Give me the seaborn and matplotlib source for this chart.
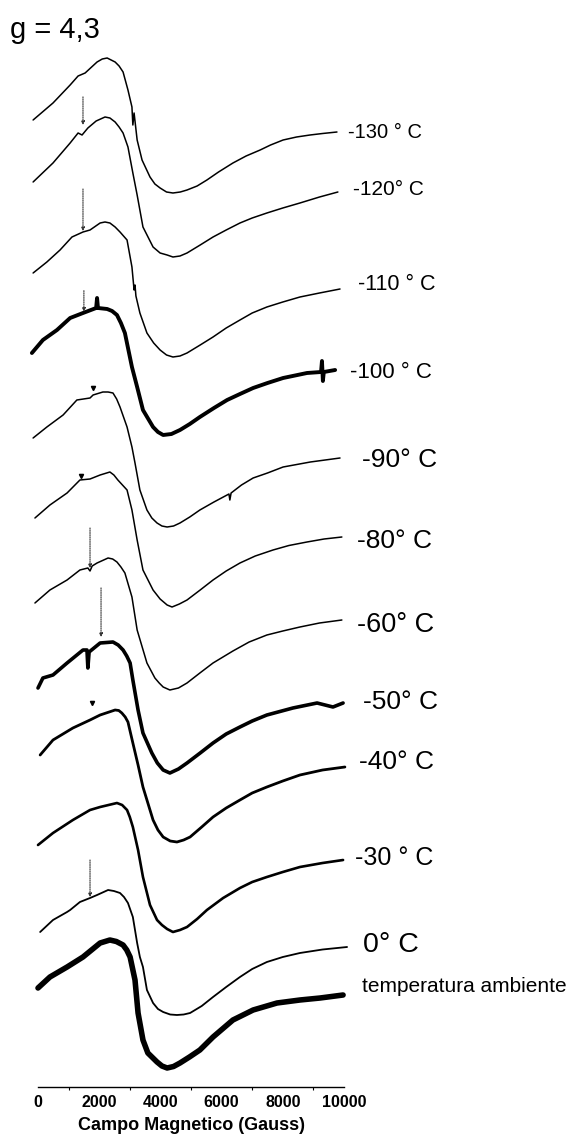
import numpy as np
import pandas as pd
import matplotlib
matplotlib.use("Agg")
import matplotlib.pyplot as plt
import seaborn as sns

# EPR spectra, field in Gauss, signal in arbitrary units (relative to each trace start)
labels = ["-130 ° C", "-120° C", "-110 ° C", "-100 ° C", "-90° C", "-80° C",
          "-60° C", "-50° C", "-40° C", "-30 ° C", "0° C", "temperatura ambiente"]

field_130 = [-160, 490, 1050, 1310, 1540, 1930, 2100, 2260, 2520, 2650, 2780, 2940, 3070,
             3100, 3140, 3240, 3400, 3660, 3820, 3990, 4200, 4410, 4650, 4870, 5200, 5520,
             5900, 6370, 6800, 7260, 7600, 8010, 8450, 8890, 9300, 9770]
sig_130 = [0, 17, 35, 44, 47, 58, 61, 62, 58, 54, 48, 30, 13, -5, 7, -20, -40, -57, -64,
           -68, -72, -73, -72, -70, -66, -60, -52, -43, -36, -30, -25, -20, -17, -15,
           -13.5, -12]

field_120 = [-160, 490, 1050, 1310, 1440, 1630, 1900, 2190, 2350, 2520, 2650, 2780, 2940,
             3100, 3240, 3430, 3760, 3990, 4220, 4410, 4640, 4870, 5300, 5720, 6150, 6600,
             7000, 7480, 8000, 8560, 9200, 9800]
sig_120 = [0, 19, 39, 49, 47, 54, 61, 65, 64, 60, 55, 49, 35, 9, -13, -45, -65, -71, -73,
           -75, -74, -71, -63, -55, -48, -41, -36, -31, -26, -21, -15, -10]

field_110 = [-160, 290, 720, 1110, 1470, 1700, 2030, 2190, 2350, 2520, 2680, 2910, 3070,
             3140, 3170, 3200, 3330, 3560, 3780, 3990, 4200, 4410, 4640, 4870, 5300, 5720,
             6150, 6600, 7000, 7480, 8000, 8560, 9200, 9870]
sig_110 = [0, 11, 23, 36, 41, 43, 50, 51, 50, 46, 41, 33, 6, -17, -12, -23, -40, -60, -70,
           -77, -82, -84, -83, -80, -72, -64, -55, -47, -40, -34, -29, -24, -20, -16]

field_100 = [-200, 160, 620, 1050, 1470, 1900, 1930, 1960, 2260, 2420, 2580, 2710, 2840,
             3070, 3240, 3430, 3760, 3920, 4090, 4360, 4640, 4960, 5290, 5750, 6180, 6600,
             7030, 7500, 8010, 8790, 9250, 9280, 9310, 9340, 9710]
sig_100 = [0, 13, 23, 35, 40, 45, 55, 45, 44, 42, 38, 30, 20, -14, -34, -57, -74, -79,
           -82, -81, -77, -71, -64, -55, -47, -41, -35, -30, -25, -20, -19, -8, -28, -19,
           -17]

field_90 = [-160, 290, 820, 1270, 1700, 1800, 2120, 2290, 2450, 2570, 2680, 2910, 3070,
            3170, 3330, 3560, 3720, 3890, 4050, 4220, 4430, 4640, 4960, 5290, 5750, 6240,
            6270, 6310, 6650, 7030, 7500, 8010, 8900, 9870]
sig_90 = [0, 11, 23, 38, 40, 43, 46, 46, 45, 39, 31, 11, -9, -25, -52, -72, -80, -85, -88,
          -89, -88, -85, -79, -72, -64, -56, -62, -55, -47, -40, -35, -29, -24, -20]

field_80 = [-100, 390, 950, 1370, 1700, 2030, 2350, 2480, 2610, 2760, 2910, 3070, 3240,
            3430, 3760, 3990, 4220, 4380, 4620, 4870, 5300, 5720, 6150, 6600, 7100, 7680,
            8200, 8790, 9350, 9930]
sig_80 = [0, 13, 25, 38, 39, 43, 46, 43, 38, 33, 28, 8, -22, -52, -72, -81, -87, -89, -86,
          -82, -72, -62, -53, -45, -38, -32, -27.5, -24, -21, -19]

field_60 = [-100, 390, 950, 1370, 1630, 1700, 1770, 1930, 2290, 2440, 2580, 2710, 2840,
            3070, 3240, 3560, 3820, 3960, 4090, 4310, 4590, 4870, 5290, 5720, 6370, 6900,
            7480, 8000, 8560, 9200, 9930]
sig_60 = [0, 13, 23, 33, 35, 32, 37, 40, 45, 44, 41, 36, 30, 6, -27, -60, -75, -80, -84,
          -87, -85, -80, -70, -60, -48, -39, -32, -28, -24, -20, -17]

field_50 = [0, 160, 490, 950, 1470, 1600, 1630, 1670, 2030, 2450, 2620, 2780, 2900, 3010,
            3100, 3270, 3430, 3720, 3900, 4090, 4310, 4590, 4870, 5300, 5720, 6150, 6600,
            7000, 7480, 8330, 9120, 9640, 9970]
sig_50 = [0, 10, 13, 25, 38, 38, 20, 36, 45, 46, 43, 38, 32, 25, 8, -22, -45, -65, -75,
          -82, -85, -81, -75, -65, -55, -46, -39, -33, -27, -20, -15, -19, -15]

field_40 = [70, 490, 1140, 1700, 2030, 2520, 2640, 2740, 2850, 2940, 3100, 3270, 3430,
            3760, 3920, 4090, 4320, 4540, 4760, 4970, 5350, 5720, 6150, 6600, 7000, 7480,
            8000, 8560, 9300, 10030]
sig_40 = [0, 15, 27, 35, 40, 45, 44.5, 42, 38, 33, 12, -10, -32, -65, -75, -82, -86, -87,
          -85, -82, -72, -62, -53, -45, -38, -32, -26, -20, -15, -12]

field_30 = [0, 490, 1140, 1700, 2030, 2580, 2750, 2910, 3000, 3100, 3270, 3430, 3660,
            3890, 4050, 4220, 4410, 4640, 4870, 5200, 5520, 6050, 6600, 7000, 7480, 8000,
            8560, 9300, 9970]
sig_30 = [0, 12, 25, 35, 38, 42, 40, 35, 28, 18, -5, -32, -60, -75, -80, -84, -87, -85,
          -82, -74, -65, -53, -43, -37, -32, -27, -22, -18, -15]

field_0 = [70, 490, 950, 1050, 1370, 1700, 1930, 2290, 2480, 2680, 2810, 2940, 3100, 3240,
           3330, 3430, 3560, 3760, 3920, 4090, 4320, 4540, 4760, 4970, 5350, 5720, 6150,
           6600, 7000, 7480, 8000, 8560, 9300, 10100]
sig_0 = [0, 12, 20, 22, 30, 34, 37, 42, 41, 39, 35, 29, 15, -11, -25, -35, -58, -71, -77,
         -80, -82.5, -83, -82.5, -81, -74, -65, -55, -45, -37, -30, -25, -21, -17.5, -15]

field_amb = [0, 390, 950, 1470, 2030, 2350, 2560, 2780, 2900, 3010, 3170, 3270, 3430, 3590,
             3890, 4050, 4220, 4430, 4640, 4950, 5290, 5720, 6370, 7030, 7810, 8560, 9220,
             9970]
sig_amb = [0, 11, 21, 31, 45, 48, 46.5, 43, 38, 31, 8, -25, -52, -65, -74, -78, -80,
           -78.5, -75, -69, -62, -49, -32, -22, -15, -12, -10, -7]

fields = [field_130, field_120, field_110, field_100, field_90, field_80,
          field_60, field_50, field_40, field_30, field_0, field_amb]
signals = [sig_130, sig_120, sig_110, sig_100, sig_90, sig_80,
           sig_60, sig_50, sig_40, sig_30, sig_0, sig_amb]

# layout: vertical stacking, line widths (noisy spectra drawn thicker), label placement
offsets = [967, 905, 814, 734, 649, 569, 484, 399, 332, 242, 155, 99]
widths = [1.1, 1.1, 1.1, 2.8, 1.1, 1.1, 1.1, 2.6, 2.0, 1.9, 1.3, 4.0]
label_pos = [(348, 133), (353, 190), (358, 285), (350, 372), (362, 460), (357, 541),
             (357, 625), (363, 702), (359, 762), (355, 858), (363, 945), (362, 987)]
label_size = [14.5, 15, 15.5, 16, 19, 19, 19.5, 19, 19, 18, 20.5, 15]

# dotted arrows: (trace, field, gap above trace, length)
arrows = [(1, 1470, 9, 28), (2, 1470, 1, 42), (3, 1500, 1, 21),
          (6, 1700, 3, 40), (7, 2060, 6, 49), (10, 1700, 1, 37)]
# small tick marks: (trace, field, gap)
marks = [(4, 1800, 7), (5, 1400, 4), (8, 1770, 16)]

rows = []
for lab, f, s, off in zip(labels, fields, signals, offsets):
    for x, y in zip(f, s):
        rows.append({"temp": lab, "field": x, "y": y + off})
df = pd.DataFrame(rows)

sns.set_theme(style="white")
plt.rcParams["font.family"] = ["Liberation Sans", "DejaVu Sans"]
plt.rcParams["text.color"] = "black"
plt.rcParams["axes.labelcolor"] = "black"
plt.rcParams["xtick.color"] = "black"

W, H = 570, 1136
fig = plt.figure(figsize=(W / 100, H / 100), dpi=100)
ax = fig.add_axes([38 / W, 49 / H, 306 / W, 1087 / H])

for lab, lw in zip(labels, widths):
    sub = df[df["temp"] == lab]
    sns.lineplot(data=sub, x="field", y="y", ax=ax, color="black", lw=lw,
                 estimator=None, sort=False, legend=False, clip_on=False,
                 solid_joinstyle="round", solid_capstyle="round")

for ti, g, gap, length in arrows:
    tip = offsets[ti] + np.interp(g, fields[ti], signals[ti]) + gap
    ax.annotate("", xy=(g, tip), xytext=(g, tip + length),
                arrowprops=dict(arrowstyle="-|>", ls=(0, (1, 1)), lw=0.8, color="#333333",
                                mutation_scale=5, shrinkA=0, shrinkB=0))

for ti, g, gap in marks:
    y = offsets[ti] + np.interp(g, fields[ti], signals[ti]) + gap
    ax.plot([g], [y], marker="v", ms=3, color="black", clip_on=False)

ax.set_xlim(0, 10000)
ax.set_ylim(0, 1087)
ax.set_xticks(range(0, 10001, 2000))
ax.set_xticks(range(1000, 10000, 2000), minor=True)
ax.set_yticks([])
for side in ["left", "top", "right"]:
    ax.spines[side].set_visible(False)
ax.spines["bottom"].set_color("black")
ax.spines["bottom"].set_linewidth(1.0)
ax.tick_params(axis="x", which="major", direction="out", length=4, width=1,
               color="black", pad=2, labelsize=11.5)
ax.tick_params(axis="x", which="minor", direction="out", length=2.5, width=0.8,
               color="black", bottom=True)
for t in ax.get_xticklabels():
    t.set_fontweight("bold")
ax.set_xlabel("Campo Magnetico (Gauss)", fontsize=13, fontweight="bold", labelpad=5)
ax.set_ylabel("")

fig.text(10 / W, 1 - 30 / H, "g = 4,3", fontsize=21, va="center", ha="left")
for lab, (px, py), fs in zip(labels, label_pos, label_size):
    fig.text(px / W, 1 - py / H, lab, fontsize=fs, va="center", ha="left")

fig.savefig("out.png", dpi=100)
